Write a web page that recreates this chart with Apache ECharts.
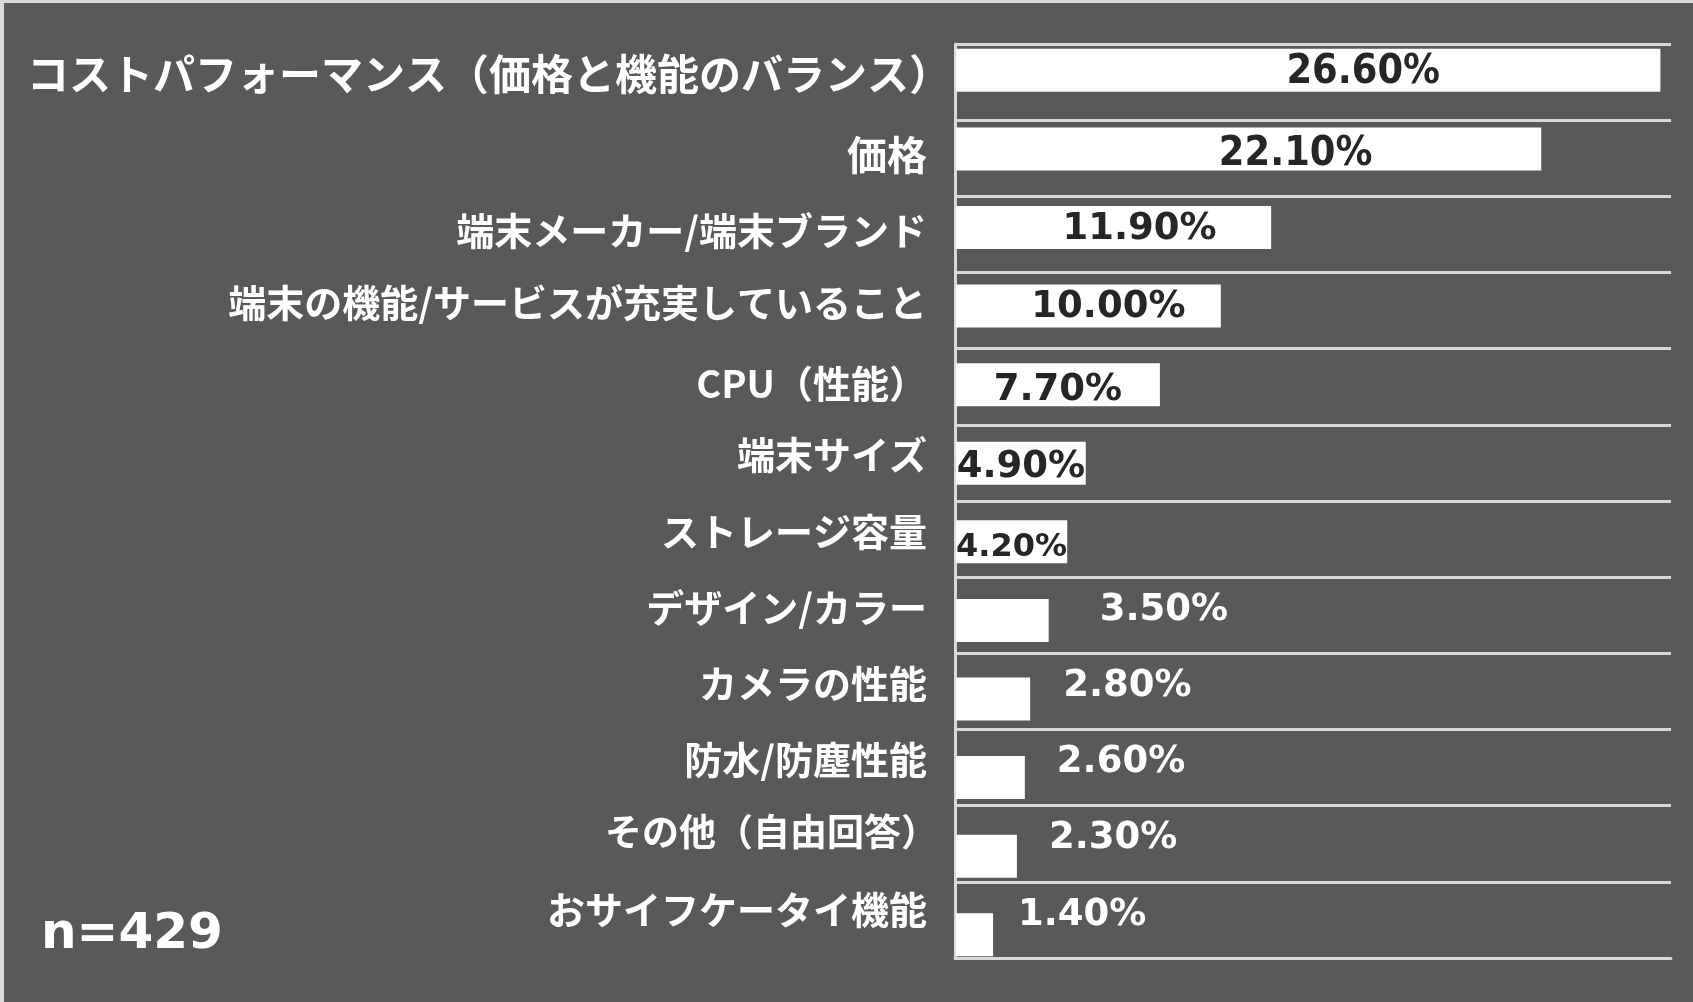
<!DOCTYPE html>
<html>
<head>
<meta charset="utf-8">
<script src="https://cdn.jsdelivr.net/npm/echarts@6/dist/echarts.min.js"></script>
<style>
html,body{margin:0;padding:0;background:#595959;}
#chart{width:1693px;height:1002px;}
</style>
</head>
<body>
<div id="chart"></div>
<script>
// ---- data ----
const categories = [
  'コストパフォーマンス（価格と機能のバランス）',
  '価格',
  '端末メーカー/端末ブランド',
  '端末の機能/サービスが充実していること',
  'CPU（性能）',
  '端末サイズ',
  'ストレージ容量',
  'デザイン/カラー',
  'カメラの性能',
  '防水/防塵性能',
  'その他（自由回答）',
  'おサイフケータイ機能'
];
const values = [26.6, 22.1, 11.9, 10.0, 7.7, 4.9, 4.2, 3.5, 2.8, 2.6, 2.3, 1.4];
const sampleNote = 'n=429';
const axisMax = 27;

// ---- styling (positions / sizes kept apart from data) ----
const catFontSizes = [42, 40, 38, 38, 38, 38, 38, 38, 38, 38, 37, 38];
const catShiftX = [24, 0, 0, 0, 0, 0, 0, 0, 0, 0, 11, 0];
const catShiftY = [0, 5, 4, 0, 5, 0, 0, 0, 0, 0, -4, -2];
const DARK = '#262626';
const valueLabelStyles = [
  {pos: 'inside', dx: 55, dy: 2, size: 41, color: DARK, cond: true},
  {pos: 'inside', dx: 47, dy: 5, size: 41, color: DARK, cond: true},
  {pos: 'inside', dx: 26, dy: 2, size: 37, color: DARK},
  {pos: 'inside', dx: 20, dy: 1, size: 37, color: DARK},
  {pos: 'inside', dx: 0, dy: 6, size: 37, color: DARK},
  {pos: 'inside', dx: 0, dy: 4, size: 37, color: DARK},
  {pos: 'inside', dx: 0, dy: 6, size: 32, color: DARK},
  {pos: 'right', dist: 51, dx: 0, dy: -10, size: 37, color: '#ffffff'},
  {pos: 'right', dist: 33, dx: 0, dy: -13, size: 37, color: '#ffffff'},
  {pos: 'right', dist: 32, dx: 0, dy: -15, size: 37, color: '#ffffff'},
  {pos: 'right', dist: 32, dx: 0, dy: -18, size: 37, color: '#ffffff'},
  {pos: 'right', dist: 25, dx: 0, dy: -19, size: 37, color: '#ffffff'}
];
const GRID_COLOR = '#d9d9d9';
const CJK = "'Noto Sans CJK JP', 'Noto Sans', sans-serif";
const NUM = "'DejaVu Sans', 'Noto Sans', sans-serif";
const NUM_COND = "'DejaVu Sans Condensed', 'Liberation Sans Narrow', 'DejaVu Sans', sans-serif";

const fmtPct = p => Number(p.value).toFixed(2) + '%';

const catRich = {};
catFontSizes.forEach((fs, i) => {
  const dy = catShiftY[i];
  catRich['k' + i] = {
    fontSize: fs, fontFamily: CJK, fontWeight: 'bold', color: '#ffffff',
    padding: [Math.max(dy, 0) * 2, -catShiftX[i], Math.max(-dy, 0) * 2, 0]
  };
});

const barData = values.map((v, i) => {
  const s = valueLabelStyles[i];
  const label = {
    show: true,
    position: s.pos,
    offset: [s.dx, s.dy],
    color: s.color,
    fontSize: s.size,
    fontWeight: 'bold',
    fontFamily: s.cond ? NUM_COND : NUM,
    formatter: fmtPct
  };
  if (s.dist !== undefined) label.distance = s.dist;
  return {value: v, label: label};
});

const chart = echarts.init(document.getElementById('chart'), null, {renderer: 'canvas'});
chart.setOption({
  backgroundColor: '#595959',
  animation: false,
  grid: [
    {left: 955, right: 22, top: 44, bottom: 44, containLabel: false},
    {left: 956, right: 22, top: 31, bottom: 28, containLabel: false},
    {left: 955, right: 22, top: 36, bottom: 52, containLabel: false}
  ],
  xAxis: [
    {
      gridIndex: 0, type: 'value', min: 0, max: axisMax,
      axisLine: {show: true, lineStyle: {color: GRID_COLOR, width: 3}},
      axisTick: {show: false}, axisLabel: {show: false}, splitLine: {show: false}
    },
    {gridIndex: 1, type: 'value', min: 0, max: axisMax, show: false},
    {gridIndex: 2, type: 'value', min: 0, max: axisMax, show: false}
  ],
  yAxis: [
    {
      gridIndex: 0, type: 'category', inverse: true, data: categories,
      axisLine: {show: true, lineStyle: {color: GRID_COLOR, width: 3}},
      axisTick: {show: false},
      splitLine: {show: true, lineStyle: {color: GRID_COLOR, width: 3}},
      axisLabel: {show: false}
    },
    {
      gridIndex: 1, type: 'category', inverse: true, data: categories, show: false
    },
    {
      gridIndex: 2, type: 'category', inverse: true, data: categories,
      axisLine: {show: false}, axisTick: {show: false}, splitLine: {show: false},
      axisLabel: {
        show: true, margin: 28, interval: 0,
        color: '#ffffff', fontFamily: CJK, fontWeight: 'bold', fontSize: 38,
        formatter: (val, idx) => '{k' + idx + '|' + val + '}',
        rich: catRich
      }
    }
  ],
  series: [{
    type: 'bar',
    xAxisIndex: 1, yAxisIndex: 1,
    barWidth: 43,
    itemStyle: {color: '#ffffff'},
    data: barData,
    z: 3
  }],
  graphic: [
    {type: 'rect', left: 0, top: 0, shape: {width: 1693, height: 3}, style: {fill: GRID_COLOR}, z: 100},
    {type: 'rect', left: 0, top: 0, shape: {width: 4, height: 1002}, style: {fill: GRID_COLOR}, z: 100},
    {type: 'text', left: 41, top: 910, style: {text: sampleNote, fill: '#ffffff', font: "bold 50px 'DejaVu Sans', sans-serif"}, z: 100}
  ]
});
</script>
</body>
</html>
